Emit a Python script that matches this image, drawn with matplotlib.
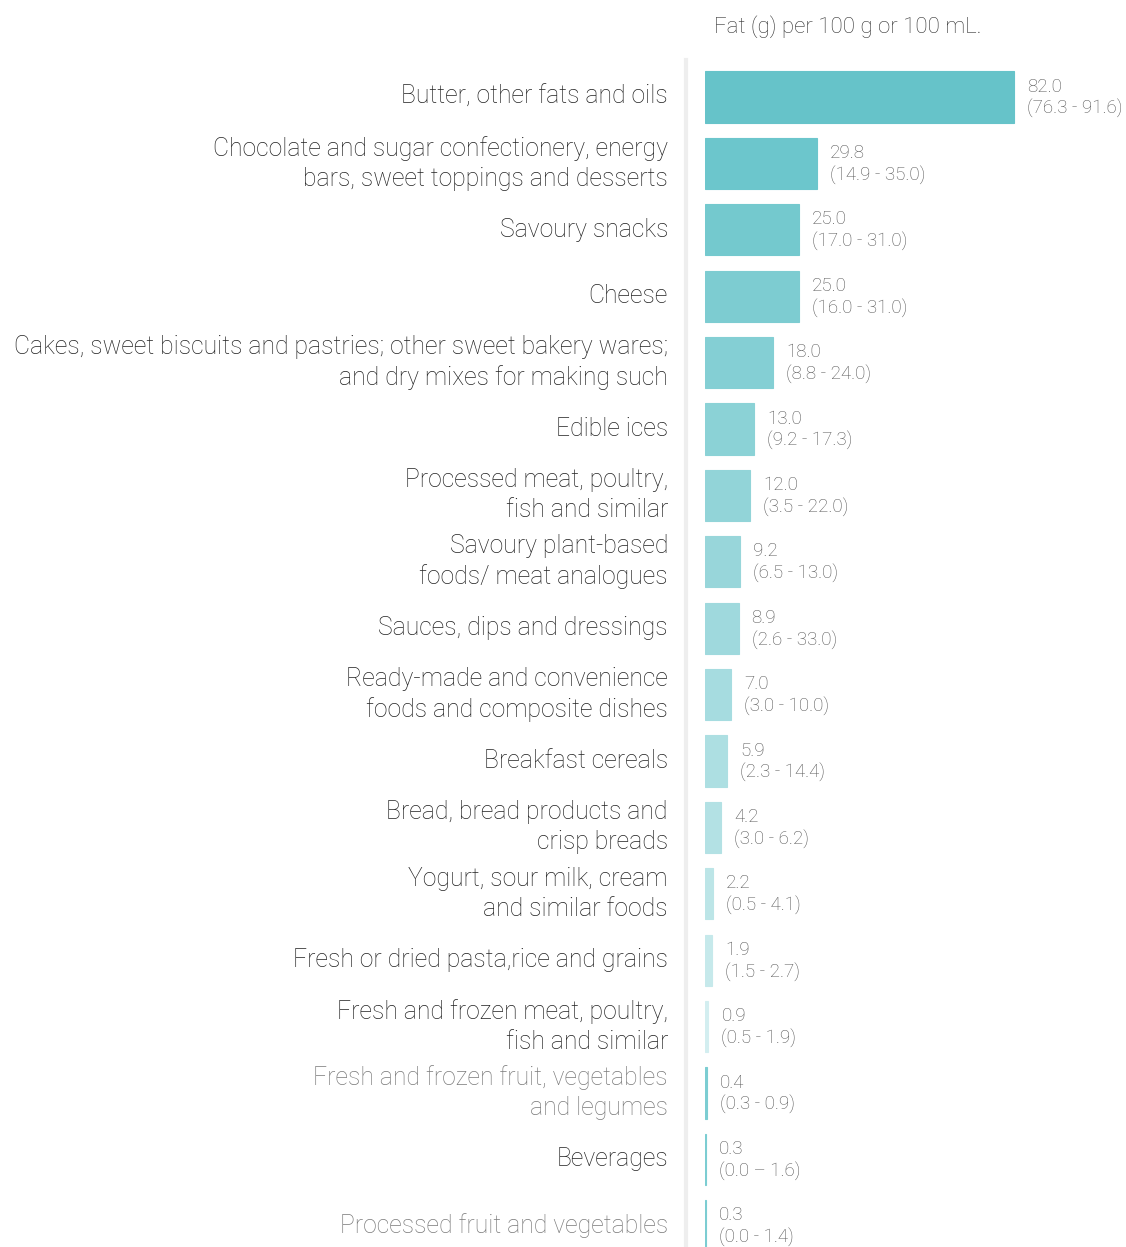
import matplotlib
matplotlib.use('Agg')
import matplotlib.pyplot as plt
from matplotlib.lines import Line2D

# data
categories = [
    'Butter, other fats and oils',
    'Chocolate and sugar confectionery, energy\nbars, sweet toppings and desserts',
    'Savoury snacks',
    'Cheese',
    'Cakes, sweet biscuits and pastries; other sweet bakery wares;\nand dry mixes for making such',
    'Edible ices',
    'Processed meat, poultry,\nfish and similar',
    'Savoury plant-based\nfoods/ meat analogues',
    'Sauces, dips and dressings',
    'Ready-made and convenience\nfoods and composite dishes',
    'Breakfast cereals',
    'Bread, bread products and\ncrisp breads',
    'Yogurt, sour milk, cream\nand similar foods',
    'Fresh or dried pasta,rice and grains',
    'Fresh and frozen meat, poultry,\nfish and similar',
    'Fresh and frozen fruit, vegetables\nand legumes',
    'Beverages',
    'Processed fruit and vegetables',
]
fat = [82.0, 29.8, 25.0, 25.0, 18.0, 13.0, 12.0, 9.2, 8.9, 7.0, 5.9, 4.2,
       2.2, 1.9, 0.9, 0.4, 0.3, 0.3]
ranges = ['76.3 - 91.6', '14.9 - 35.0', '17.0 - 31.0', '16.0 - 31.0',
          '8.8 - 24.0', '9.2 - 17.3', '3.5 - 22.0', '6.5 - 13.0',
          '2.6 - 33.0', '3.0 - 10.0', '2.3 - 14.4', '3.0 - 6.2',
          '0.5 - 4.1', '1.5 - 2.7', '0.5 - 1.9', '0.3 - 0.9',
          '0.0 \u2013 1.6', '0.0 - 1.4']

bar_colors = ['#66c3c9', '#6cc6cc', '#74c9ce', '#7dccd1', '#84cfd4',
              '#8bd2d6', '#92d4d8', '#98d6da', '#9fd9dd', '#a6dce0',
              '#addfe2', '#b3e1e4', '#bce5e7', '#c6e9eb', '#d3eef0',
              '#7ccdd2', '#7ccdd2', '#7ccdd2']
label_colors = ['#222222'] * 15 + ['#7a7a7a', '#222222', '#7a7a7a']

plt.rcParams['font.family'] = ['Roboto', 'DejaVu Sans']

fig = plt.figure(figsize=(11.26, 12.47), dpi=100)
W, H = 1126, 1247
ax = fig.add_axes([705 / W, 0, 1 - 705 / W, (H - 63.8) / H])

y = list(range(len(categories)))
ax.barh(y, fat, height=0.77, color=bar_colors, edgecolor=bar_colors,
        linewidth=0.8)
ax.set_xlim(0, 421 / (309 / 82.0))
ax.set_ylim(17.32, -0.5)
ax.axis('off')

for i, (v, r) in enumerate(zip(fat, ranges)):
    ax.annotate('%.1f\n(%s)' % (v, r), xy=(v, i), xytext=(13, -1),
                textcoords='offset pixels', va='center', ha='left',
                fontsize=13.5, color='#555555', fontweight='light',
                linespacing=1.25)
    ax.annotate(categories[i], xy=(0, i), xytext=(-37, 0),
                textcoords='offset pixels', va='center', ha='right',
                fontsize=17.8, color=label_colors[i], fontweight='light',
                linespacing=1.32, annotation_clip=False)

# vertical divider
fig.add_artist(Line2D([686 / W, 686 / W], [0, 1 - 60 / H],
                      color='#eeeeee', linewidth=3))

fig.text(714 / W, 1 - 27 / H, 'Fat (g) per 100 g or 100 mL.', ha='left',
         va='center', fontsize=16, color='#333333', fontweight='light')

fig.savefig('out.png', dpi=100, facecolor='white')
